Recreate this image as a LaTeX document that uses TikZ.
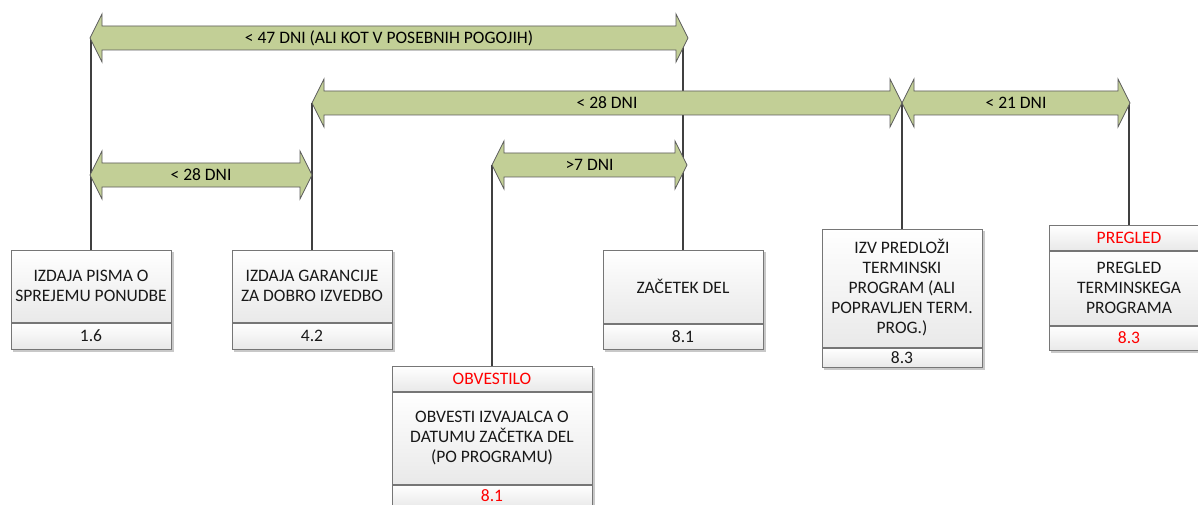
\documentclass[tikz,border=0pt]{standalone}
\usepackage{fontspec}
\setmainfont{Carlito}
\usetikzlibrary{calc}

\definecolor{spangreen}{RGB}{194,207,150}
\definecolor{spanedge}{RGB}{92,92,92}
\definecolor{boxedge}{RGB}{118,118,118}
\definecolor{connline}{RGB}{64,64,64}
\definecolor{boxlow}{RGB}{233,233,233}
\definecolor{shadowgray}{RGB}{200,200,200}
\definecolor{txtred}{RGB}{255,0,0}

\pgfdeclarelayer{paper}
\pgfdeclarelayer{under}
\pgfsetlayers{paper,under,main}

\tikzset{
  spanfill/.style={fill=spangreen, draw=spanedge, line width=0.8pt, line join=miter},
  spanlabel/.style={font=\fontsize{17.5}{20}\selectfont, text=black, inner sep=0pt},
  conn/.style={draw=connline, line width=1.2pt},
  section/.style={draw=boxedge, line width=1pt, top color=white, bottom color=boxlow,
    align=center, inner sep=2pt, font=\fontsize{17.5}{20}\selectfont, text=black!90},
  redtext/.style={text=txtred},
}

% double-headed span arrow: name, left tip x, right tip x, centre y, label
\newcommand\spanarrow[5]{%
  \coordinate (#1-w) at (#2,#4);
  \coordinate (#1-e) at (#3,#4);
  \path[spanfill] (#1-w) -- ++(12,-24) -- ++(0,12) -- ($(#1-e)+(-12,-12)$) -- ++(0,-12)
    -- (#1-e) -- ++(-12,24) -- ++(0,-12) -- ($(#1-w)+(12,12)$) -- ++(0,12) -- cycle;
  \node[spanlabel] (#1-l) at ($(#1-w)!0.5!(#1-e)$) {#5};
}

% drop shadow under a stack of sections
\newcommand\shadowfor[2]{%
  \fill[shadowgray] ($(#1.north west)+(2.5,2.5)$) rectangle ($(#2.south east)+(2.5,2.5)$);
}

\begin{document}
\begin{tikzpicture}[x=1pt,y=-1pt]
\useasboundingbox (0,0) rectangle (1198,505);
\begin{pgfonlayer}{paper}
  \fill[white] (0,0) rectangle (1198,505);
\end{pgfonlayer}

% time spans
\spanarrow{A}{90}{688}{38}{< 47 DNI (ALI KOT V POSEBNIH POGOJIH)}
\spanarrow{B}{312}{902}{103}{< 28 DNI}
\spanarrow{C}{902}{1130}{103}{< 21 DNI}
\spanarrow{D}{90}{312}{175}{< 28 DNI}
\spanarrow{E}{492}{687}{165}{>7 DNI}

% steps
\node[section, minimum width=160, minimum height=72] (b1) at (91,286) {IZDAJA PISMA O\\SPREJEMU PONUDBE};
\node[section, minimum width=160, minimum height=26, anchor=north] (b1f) at (b1.south) {1.6};

\node[section, minimum width=160, minimum height=72] (b2) at (312,286) {IZDAJA GARANCIJE\\ZA DOBRO IZVEDBO};
\node[section, minimum width=160, minimum height=26, anchor=north] (b2f) at (b2.south) {4.2};

\node[section, redtext, minimum width=200, minimum height=25] (b3h) at (492,378.5) {OBVESTILO};
\node[section, minimum width=200, minimum height=92, anchor=north] (b3) at (b3h.south) {OBVESTI IZVAJALCA O\\DATUMU ZAČETKA DEL\\(PO PROGRAMU)};
\node[section, redtext, minimum width=200, minimum height=22, anchor=north] (b3f) at (b3.south) {8.1};

\node[section, minimum width=160, minimum height=73] (b4) at (683,286.5) {ZAČETEK DEL};
\node[section, minimum width=160, minimum height=25, anchor=north] (b4f) at (b4.south) {8.1};

\node[section, minimum width=160, minimum height=118] (b5) at (902,288) {IZV PREDLOŽI\\TERMINSKI\\PROGRAM (ALI\\POPRAVLJEN TERM.\\PROG.)};
\node[section, minimum width=160, minimum height=19, anchor=north] (b5f) at (b5.south) {8.3};

\node[section, redtext, minimum width=160, minimum height=25] (b6h) at (1129,237.5) {PREGLED};
\node[section, minimum width=160, minimum height=74, anchor=north] (b6) at (b6h.south) {PREGLED\\TERMINSKEGA\\PROGRAMA};
\node[section, redtext, minimum width=160, minimum height=24, anchor=north] (b6f) at (b6.south) {8.3};

\begin{pgfonlayer}{under}
  \shadowfor{b1}{b1f}
  \shadowfor{b2}{b2f}
  \shadowfor{b3h}{b3f}
  \shadowfor{b4}{b4f}
  \shadowfor{b5}{b5f}
  \shadowfor{b6h}{b6f}
  % leaders from each step up to its span ends
  \draw[conn] (b1.north) -- (b1.north |- A-w);
  \draw[conn] (b2.north) -- (b2.north |- B-w);
  \draw[conn] (b3h.north) -- (b3h.north |- E-w);
  \draw[conn] (b4.north) -- (b4.north |- A-e);
  \draw[conn] (b5.north) -- (b5.north |- B-e);
  \draw[conn] (b6h.north) -- (b6h.north |- C-e);
\end{pgfonlayer}
\end{tikzpicture}
\end{document}
